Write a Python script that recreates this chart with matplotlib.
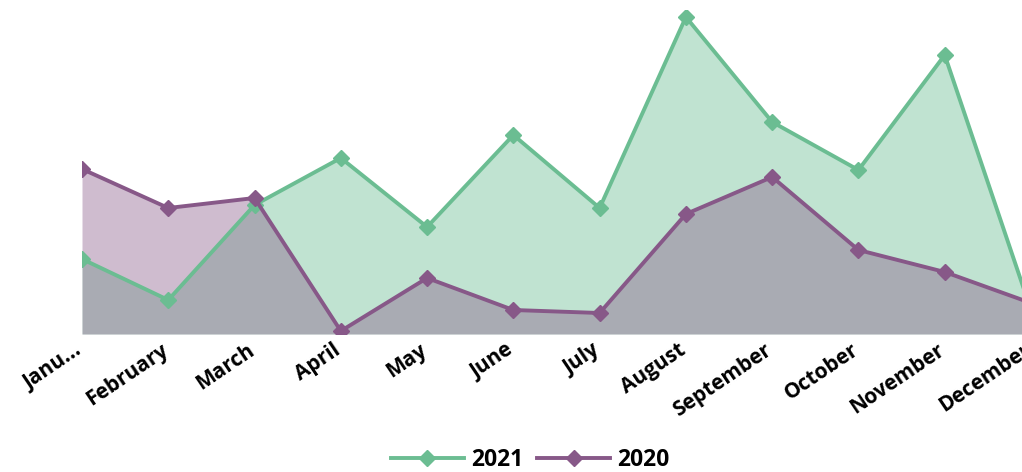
import matplotlib
matplotlib.use("Agg")
import matplotlib.pyplot as plt
import matplotlib.transforms as mtransforms
import numpy as np

months = ["Janu...", "February", "March", "April", "May", "June", "July",
          "August", "September", "October", "November", "December"]
series_2021 = [75, 34, 129, 176, 107, 199, 126, 317, 212, 164, 279, 24]
series_2020 = [165, 126, 136, 3, 56, 24, 21, 120, 157, 84, 62, 31]

green = "#6bbd92"
purple = "#875888"

W, H = 1022, 472
fig = plt.figure(figsize=(W / 100, H / 100), dpi=100)
left_px, right_px, base_px, top_px = 82, 1031, 334, 10
ax = fig.add_axes([left_px / W, (H - base_px) / H,
                   (right_px - left_px) / W, (base_px - top_px) / H])

x = np.arange(len(months))
ax.fill_between(x, 0, series_2021, color=green, alpha=0.42, linewidth=0, zorder=1)
ax.fill_between(x, 0, series_2020, color=purple, alpha=0.40, linewidth=0, zorder=2)
ax.plot(x, series_2021, color=green, lw=2.8, marker="D", ms=8, label="2021", zorder=3)
ax.plot(x, series_2020, color=purple, lw=2.8, marker="D", ms=8, label="2020", zorder=4)

ax.set_xlim(0, len(months) - 1)
ax.set_ylim(0, base_px - top_px)
ax.set_xticks(x)
ax.set_xticklabels(months, rotation=34, ha="right", rotation_mode="anchor",
                   fontsize=15, fontweight="bold", family="Open Sans")
ax.tick_params(axis="x", length=0, pad=4)
offset = mtransforms.ScaledTranslation(-8 / 100, 0, fig.dpi_scale_trans)
for lbl in ax.get_xticklabels():
    lbl.set_transform(lbl.get_transform() + offset)
ax.set_yticks([])
for s in ax.spines.values():
    s.set_visible(False)

leg = fig.legend(loc="center", bbox_to_anchor=(530 / W, 1 - 460 / H), ncol=2,
                 frameon=False, prop={"family": "Open Sans", "weight": "bold", "size": 16.5},
                 handlelength=3.2, columnspacing=0.6, handletextpad=0.3)

fig.savefig("out.png", dpi=100)
